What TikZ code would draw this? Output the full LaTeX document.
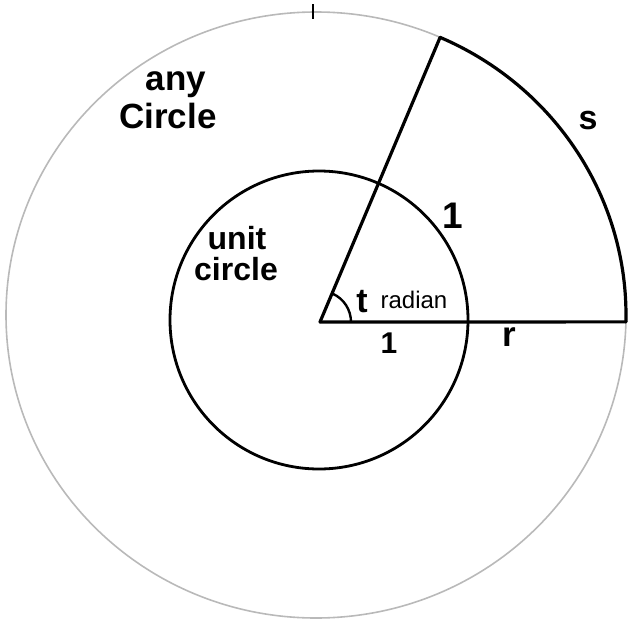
\documentclass[tikz,border=0pt]{standalone}
\usepackage{fontspec}
\setmainfont{Liberation Sans}
\usetikzlibrary{calc}
\tikzset{
  faint/.style={draw=gray!55, line width=1.6pt},
  bold/.style={draw=black, line width=3.2pt, line cap=round, line join=round},
  lbl/.style={inner sep=0pt, text=black},
}
\begin{document}
\begin{tikzpicture}[x=1pt,y=-1pt]
\useasboundingbox (0,0) rectangle (627,629);
% centres
\coordinate (C) at (316,315);
\coordinate (U) at (319,320);
\coordinate (O) at (320,322);
\coordinate (P) at ($(C)+(-66.4:310 and 303)$);
\coordinate (Q) at ($(C)+(1.3:310 and 303)$);
% any circle (faint)
\draw[faint] (C) ellipse [x radius=310, y radius=303];
\draw[line width=2pt] (313,4) -- (313,19);
% bold arc s
\draw[bold] (P) arc[start angle=-66.4, end angle=1.3, x radius=310, y radius=303];
% unit circle
\draw[draw=black, line width=2.8pt] (U) circle [radius=149];
% rays
\draw[bold] (O) -- (P);
\draw[bold] (O) -- (Q);
% angle
\draw[line width=2.4pt] ($(O)+(31,0)$) arc[start angle=0, end angle=-66, radius=31];
% labels
\node[lbl, font=\bfseries\fontsize{35}{38}\selectfont] (any) at (176,85) {any};
\node[lbl, font=\bfseries\fontsize{35}{38}\selectfont] (anyc) at (168,116) {Circle};
\node[lbl, font=\bfseries\fontsize{32}{34}\selectfont] (unit) at (237,238) {unit};
\node[lbl, font=\bfseries\fontsize{32}{34}\selectfont] (unitc) at (236,269) {circle};
\node[lbl, font=\bfseries\fontsize{37}{38}\selectfont] (one1) at (453,216) {1};
\node[lbl, font=\bfseries\fontsize{34}{36}\selectfont] (s) at (588,121) {s};
\node[lbl, font=\bfseries\fontsize{34}{36}\selectfont] (t) at (362,302) {t};
\node[lbl, font=\fontsize{24}{26}\selectfont] (rad) at (414,300) {radian};
\node[lbl, font=\bfseries\fontsize{30}{32}\selectfont] (one2) at (389,343) {1};
\node[lbl, font=\bfseries\fontsize{35}{36}\selectfont] (r) at (509,337) {r};
\end{tikzpicture}
\end{document}
